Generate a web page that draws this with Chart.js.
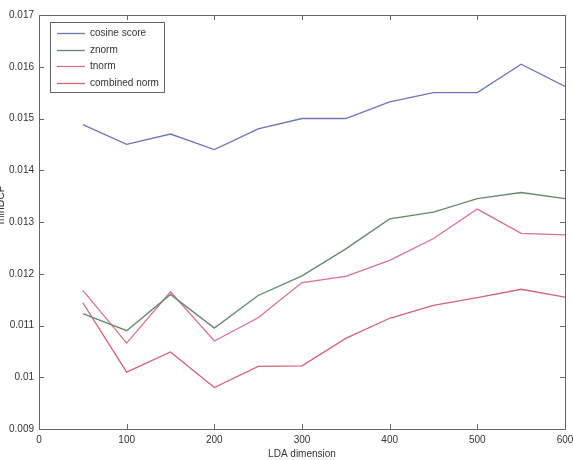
<!DOCTYPE html>
<html>
<head>
<meta charset="utf-8">
<script src="https://cdn.jsdelivr.net/npm/chart.js@4.4.0/dist/chart.umd.min.js"></script>
<style>
html,body{margin:0;padding:0;background:#fff;}
#wrap{width:573px;height:460px;position:relative;}
</style>
</head>
<body>
<div id="wrap"><canvas id="c" width="573" height="460"></canvas></div>
<script>
const ldaDims = [50, 100, 150, 200, 250, 300, 350, 400, 450, 500, 550, 600];
const cosineScore = [0.01488, 0.01450, 0.01470, 0.01440, 0.01480, 0.01500, 0.01500, 0.01532, 0.01550, 0.01550, 0.01605, 0.01562];
const znorm = [0.01123, 0.01090, 0.01160, 0.01095, 0.01158, 0.01196, 0.01248, 0.01306, 0.01319, 0.01345, 0.01357, 0.01345];
const tnorm = [0.01168, 0.01066, 0.01165, 0.01070, 0.01115, 0.01183, 0.01195, 0.01226, 0.01268, 0.01325, 0.01278, 0.01275];
const combinedNorm = [0.01144, 0.01010, 0.01049, 0.00980, 0.01021, 0.01022, 0.01075, 0.01114, 0.01139, 0.01154, 0.01170, 0.01155];
const xTicks = [0, 100, 200, 300, 400, 500, 600];
const yTicks = [0.009, 0.010, 0.011, 0.012, 0.013, 0.014, 0.015, 0.016, 0.017];

const seriesNames = ['cosine score', 'znorm', 'tnorm', 'combined norm'];
const seriesValues = [cosineScore, znorm, tnorm, combinedNorm];
const seriesColors = ['#6f74b6', '#62896e', '#d8718b', '#d0627b'];

const FONT = '"Liberation Sans", Arial, Helvetica, sans-serif';
const TXT = '#333333';
const AXC = '#666666';

const datasets = seriesNames.map((n, i) => ({
  label: n,
  data: ldaDims.map((x, j) => ({x: x, y: seriesValues[i][j]})),
  borderColor: seriesColors[i],
  backgroundColor: seriesColors[i],
  borderWidth: 1.3,
  pointRadius: 0,
  tension: 0,
  fill: false
}));

const boxTicks = {
  id: 'boxTicks',
  afterDraw(chart) {
    const ctx = chart.ctx, a = chart.chartArea;
    const xs = chart.scales.x, ys = chart.scales.y;
    ctx.save();
    ctx.strokeStyle = AXC;
    ctx.lineWidth = 1;
    ctx.beginPath();
    ctx.rect(Math.round(a.left) + 0.5, Math.round(a.top) + 0.5, Math.round(a.right - a.left), Math.round(a.bottom - a.top));
    ctx.stroke();
    const L = 5;
    ctx.beginPath();
    xTicks.forEach(v => {
      const px = Math.round(xs.getPixelForValue(v)) + 0.5;
      ctx.moveTo(px, a.bottom); ctx.lineTo(px, a.bottom - L);
      ctx.moveTo(px, a.top); ctx.lineTo(px, a.top + L);
    });
    yTicks.forEach(v => {
      const py = Math.round(ys.getPixelForValue(v)) + 0.5;
      ctx.moveTo(a.left, py); ctx.lineTo(a.left + L, py);
      ctx.moveTo(a.right, py); ctx.lineTo(a.right - L, py);
    });
    ctx.stroke();

    // y axis title (clipped at left edge like the reference)
    ctx.fillStyle = TXT;
    ctx.font = '10.5px ' + FONT;
    ctx.translate(4, 205);
    ctx.rotate(-Math.PI / 2);
    ctx.textAlign = 'center';
    ctx.textBaseline = 'alphabetic';
    ctx.fillText('minDCF', 0, 0);
    ctx.restore();

    // legend
    ctx.save();
    const lx = 50, ly = 22, lw = 114, lh = 70;
    ctx.fillStyle = '#ffffff';
    ctx.fillRect(lx, ly, lw, lh);
    ctx.strokeStyle = AXC;
    ctx.lineWidth = 1;
    ctx.strokeRect(lx + 0.5, ly + 0.5, lw, lh);
    ctx.font = '10px ' + FONT;
    ctx.textBaseline = 'middle';
    ctx.textAlign = 'left';
    chart.data.datasets.forEach((ds, i) => {
      const yy = 33 + i * 16.5;
      ctx.strokeStyle = ds.borderColor;
      ctx.lineWidth = 1.3;
      ctx.beginPath();
      ctx.moveTo(57, Math.round(yy) + 0.5);
      ctx.lineTo(85, Math.round(yy) + 0.5);
      ctx.stroke();
      ctx.fillStyle = TXT;
      ctx.fillText(ds.label, 90, yy + 0.5);
    });
    ctx.restore();
  }
};

new Chart(document.getElementById('c'), {
  type: 'line',
  data: {datasets: datasets},
  options: {
    responsive: false,
    animation: false,
    devicePixelRatio: 1,
    layout: {padding: {left: 0, top: 15, right: 8, bottom: 0}},
    plugins: {legend: {display: false}, tooltip: {enabled: false}},
    scales: {
      x: {
        type: 'linear',
        min: 0, max: 600,
        afterBuildTicks: s => { s.ticks = xTicks.map(v => ({value: v})); },
        afterFit: s => { s.height = 31; s.paddingRight = 0; s.paddingLeft = 0; },
        grid: {display: false, drawTicks: false},
        border: {display: false},
        ticks: {
          padding: 5,
          color: TXT,
          font: {family: FONT, size: 10},
          maxRotation: 0,
          autoSkip: false,
          callback: v => String(v)
        },
        title: {
          display: true,
          text: 'LDA dimension',
          color: TXT,
          font: {family: FONT, size: 10},
          padding: {top: 1, bottom: 0}
        }
      },
      y: {
        type: 'linear',
        min: 0.009, max: 0.017,
        afterBuildTicks: s => { s.ticks = yTicks.map(v => ({value: v})); },
        afterFit: s => { s.width = 39; },
        grid: {display: false, drawTicks: false},
        border: {display: false},
        ticks: {
          padding: 5,
          color: TXT,
          font: {family: FONT, size: 10},
          autoSkip: false,
          callback: v => String(parseFloat(v.toFixed(3)))
        }
      }
    }
  },
  plugins: [boxTicks]
});
</script>
</body>
</html>
